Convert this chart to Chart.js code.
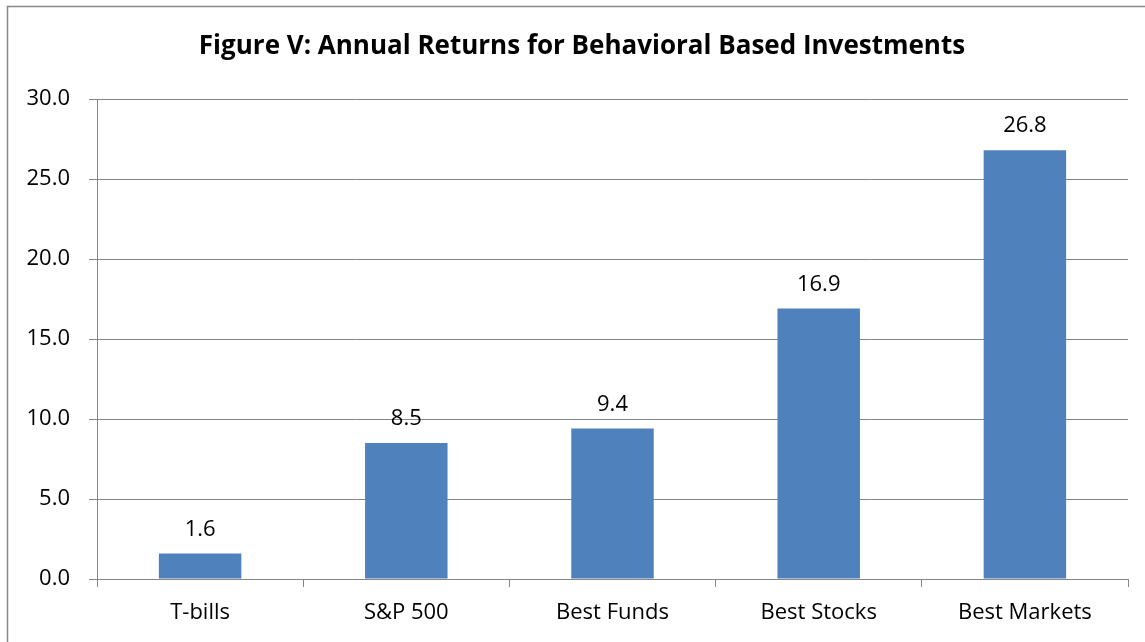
<!DOCTYPE html>
<html>
<head>
<meta charset="utf-8">
<script src="https://cdn.jsdelivr.net/npm/chart.js@4"></script>
<style>
  html, body { margin: 0; padding: 0; background: #fff; }
  #wrap { width: 1145px; height: 642px; position: relative; }
</style>
</head>
<body>
<div id="wrap"><canvas id="returnsChart"></canvas></div>
<script>
const categories = ["T-bills", "S&P 500", "Best Funds", "Best Stocks", "Best Markets"];
const annualReturns = [1.6, 8.5, 9.4, 16.9, 26.8];
const yTicks = [0, 5, 10, 15, 20, 25, 30];
const chartTitle = "Figure V: Annual Returns for Behavioral Based Investments";

const FONT = "'Open Sans', sans-serif";
const GRID = "#868686";

// outer frame and title (title sits a bit right of the canvas centre, like the original)
const framePlugin = {
    id: "frame",
    beforeDraw(chart) {
        const c = chart.ctx;
        c.save();
        c.fillStyle = "#fff";
        c.fillRect(0, 0, chart.width, chart.height);
        c.strokeStyle = "#888";
        c.lineWidth = 1.5;
        c.strokeRect(7.5, 6.5, 1300, 800);
        c.font = "bold 26px " + FONT;
        c.fillStyle = "#000";
        c.textAlign = "center";
        c.textBaseline = "middle";
        c.fillText(chartTitle, 582, 47);
        c.restore();
    }
};

// value labels above each bar
const valueLabels = {
    id: "valueLabels",
    afterDatasetsDraw(chart) {
        const c = chart.ctx;
        const meta = chart.getDatasetMeta(0);
        c.save();
        c.font = "22px " + FONT;
        c.fillStyle = "#000";
        c.textAlign = "center";
        c.textBaseline = "middle";
        meta.data.forEach((bar, i) => {
            c.fillText(annualReturns[i].toFixed(1), bar.x, bar.y - 24);
        });
        c.restore();
    }
};

new Chart(document.getElementById("returnsChart"), {
    type: "bar",
    data: {
        labels: categories,
        datasets: [{
            data: annualReturns,
            backgroundColor: "#4F81BD",
            barPercentage: 0.40,
            categoryPercentage: 1.0
        }]
    },
    options: {
        responsive: true,
        maintainAspectRatio: false,
        animation: false,
        layout: { padding: { left: 0, right: 17, top: 99, bottom: 0 } },
        plugins: {
            legend: { display: false },
            tooltip: { enabled: false },
            title: { display: false }
        },
        scales: {
            x: {
                offset: true,
                grid: {
                    offset: true,
                    drawOnChartArea: false,
                    drawTicks: true,
                    tickLength: 8,
                    color: GRID
                },
                border: { color: GRID, width: 1 },
                ticks: {
                    color: "#000",
                    font: { family: FONT, size: 22 },
                    padding: 13
                },
                afterFit(scale) { scale.height = 63; }
            },
            y: {
                min: 0,
                max: 30,
                afterBuildTicks(scale) {
                    scale.ticks = yTicks.map(v => ({ value: v }));
                },
                grid: {
                    color: GRID,
                    tickLength: 8,
                    drawTicks: true
                },
                border: { color: GRID, width: 1 },
                ticks: {
                    color: "#000",
                    font: { family: FONT, size: 22 },
                    padding: 19,
                    callback: v => v.toFixed(1)
                },
                afterFit(scale) { scale.width = 97; }
            }
        }
    },
    plugins: [framePlugin, valueLabels]
});
</script>
</body>
</html>
